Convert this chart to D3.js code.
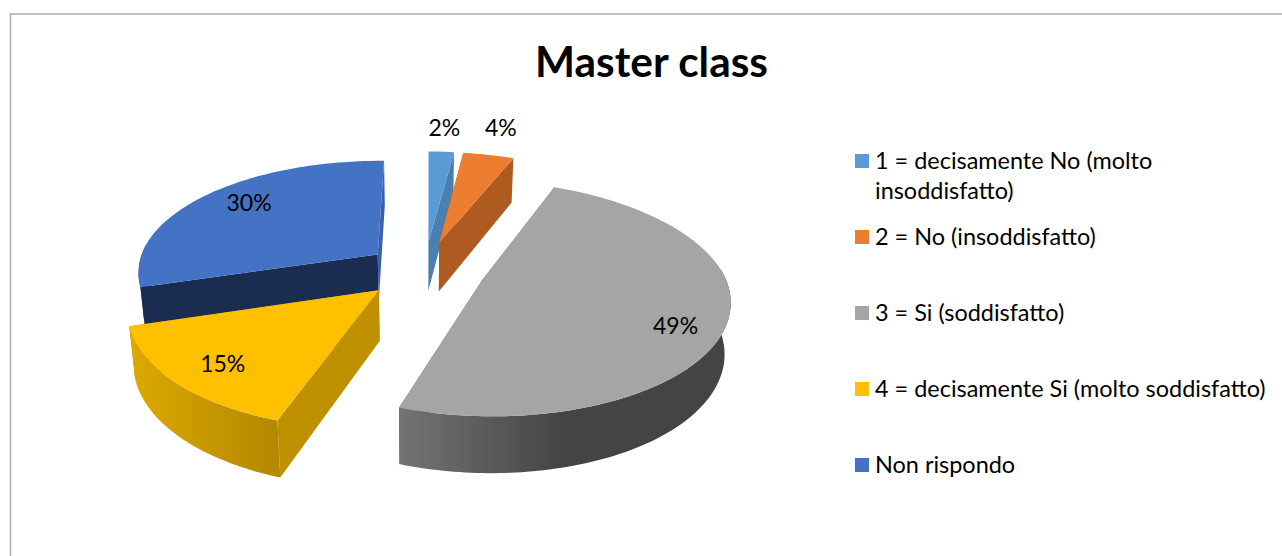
<!DOCTYPE html>
<html><head><meta charset="utf-8">
<script src="https://cdn.jsdelivr.net/npm/d3@7"></script>
<style>html,body{margin:0;padding:0;background:#fff}svg{display:block}text{font-family:Lato,"Open Sans",sans-serif;fill:#000}</style>
</head><body><svg id="c" width="1282" height="556"></svg>
<script>
const title = "Master class";
const categories = ["1 = decisamente No (molto insoddisfatto)","2 = No (insoddisfatto)","3 = Si (soddisfatto)","4 = decisamente Si (molto soddisfatto)","Non rispondo"];
const legendLines = [["1 = decisamente No (molto","insoddisfatto)"],["2 = No (insoddisfatto)"],["3 = Si (soddisfatto)"],["4 = decisamente Si (molto soddisfatto)"],["Non rispondo"]];
const values = [2,4,49,15,30];
const colors = ["#5b9bd5","#ed7d31","#a5a5a5","#ffc000","#4472c4"];
const startFace = ["#4a7fb0","#ae5a21","#6b6b6b","#bf9000","#1a2d50"];
const endFace = ["#4a7fb0","#ae5a21","#6b6b6b","#bf9000","#3a62ac"];
const wallStops = [["#4a7fb0","#4a7fb0"],["#ae5a21","#ae5a21"],["#747474","#444444"],["#dcaa00","#b48800"],["#1a2d50","#1a2d50"]];
const wallSpan = [1,1,0.5,1,1];
const drawOrder = [4,0,1,2,3];
// layout
const V = {cx:422.5, cy:270, R:241, S:-3.5, Ry:112, k:0.15, h:50, k2:0.11, s:0.98, rot:1*Math.PI/180};
const explode = [0.26,0.26,0.26,0.24,0.235];
const sliceShift = [[2,0],[1.5,0],[0,0],[-1,1],[0,0]];
const labelR = [1.28,1.28,0.78,0.62,0.68];
const labelNudge = [[0,-2],[0.5,-6],[5,12],[-35,20],[-9,-10]];

const svg = d3.select("#c");
const defs = svg.append("defs");
const color = d3.scaleOrdinal(categories, colors);

svg.append("path").attr("d","M10.5,556V14H1282").attr("fill","none").attr("stroke","#ababab").attr("stroke-width",1.5);
svg.append("text").attr("x",651.5).attr("y",77).attr("text-anchor","middle").attr("font-weight",700).attr("font-size",42.4).text(title);

const arcs = d3.pie().sort(null).startAngle(V.rot).endAngle(2*Math.PI+V.rot).value(d=>d)(values);

function plane(u,v){ const w=1+V.k*v; return {x:V.cx+(V.R*u+V.S*Math.max(v,0))/w, y:V.cy-V.Ry*v/w, d:V.h/(1+V.k2*v)}; }
const line = d3.line().curve(d3.curveLinear);
arcs.forEach((a,i)=>{
  const mid=(a.startAngle+a.endAngle)/2;
  a.u0=explode[i]*Math.sin(mid); a.v0=explode[i]*Math.cos(mid); a.mid=mid;
  a.at=(th,r=1)=>{ const p=plane(a.u0+r*Math.sin(th),a.v0+r*Math.cos(th)); p.x+=sliceShift[i][0]; p.y+=sliceShift[i][1]; return p; };
});
const topPt=p=>[p.x,p.y], botPt=p=>[V.cx+(p.x-V.cx)*V.s,p.y+p.d];

drawOrder.forEach(i=>{
  const a=arcs[i];
  const n=Math.max(4,Math.ceil((a.endAngle-a.startAngle)/0.02));
  const ths=d3.range(n+1).map(j=>a.startAngle+(a.endAngle-a.startAngle)*j/n);
  const rim=ths.map(t=>a.at(t));
  const c=a.at(0,0);
  const g=svg.append("g").attr("class","slice");
  const xs=d3.extent(rim,p=>p.x);
  const gid="w"+i;
  const lg=defs.append("linearGradient").attr("id",gid).attr("gradientUnits","userSpaceOnUse")
    .attr("x1",xs[0]).attr("x2",xs[0]+(xs[1]-xs[0])*wallSpan[i]).attr("y1",0).attr("y2",0);
  lg.append("stop").attr("offset",0).attr("stop-color",wallStops[i][0]);
  lg.append("stop").attr("offset",1).attr("stop-color",wallStops[i][1]);
  // cut faces
  const face=(p,col)=>g.append("path").attr("d",line([topPt(c),topPt(p),botPt(p),botPt(c)])+"Z").attr("fill",col);
  face(rim[0],startFace[i]);
  face(rim[n],endFace[i]);
  // outer wall: only the part of the rim that faces the viewer
  const wall=ths.filter(t=>Math.cos(t)<0.1).map(t=>a.at(t));
  if(wall.length>1) g.append("path").attr("d",line(wall.map(topPt).concat(wall.slice().reverse().map(botPt)))+"Z").attr("fill",`url(#${gid})`);
  // top
  g.append("path").attr("d",line([topPt(c)].concat(rim.map(topPt)))+"Z").attr("fill",colors[i]);
});

arcs.forEach((a,i)=>{
  const p=a.at(a.mid,labelR[i]);
  svg.append("text").attr("x",p.x+labelNudge[i][0]).attr("y",p.y+labelNudge[i][1]+8).attr("text-anchor","middle").attr("font-size",23)
    .text(Math.round(a.value/d3.sum(values)*100)+"%");
});

const rowY=d3.scaleLinear().domain([0,1]).range([160,236]);
categories.forEach((cat,i)=>{
  const y=rowY(i);
  svg.append("rect").attr("x",855).attr("y",y-6).attr("width",14).attr("height",14).attr("fill",color(cat));
  const t=svg.append("text").attr("x",875).attr("y",y+9).attr("font-size",23.45);
  legendLines[i].forEach((s,j)=>t.append("tspan").attr("x",875).attr("dy",j?30:0).text(s));
});
</script></body></html>
